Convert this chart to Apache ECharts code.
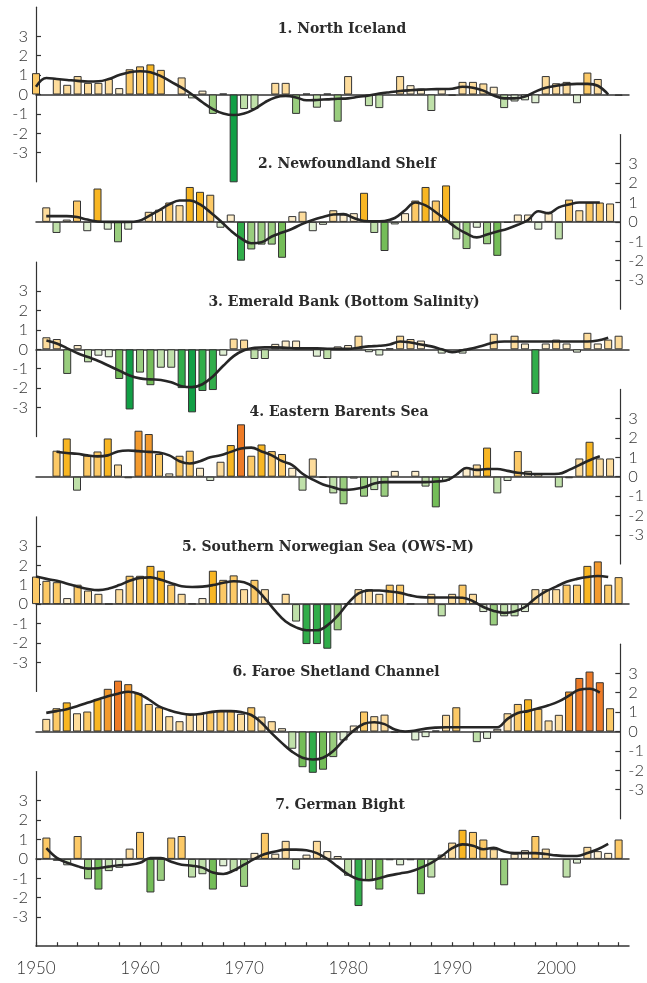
<!DOCTYPE html>
<html>
<head>
<meta charset="utf-8">
<script src="https://cdn.jsdelivr.net/npm/echarts@6/dist/echarts.min.js"></script>
<style>
  html, body { margin: 0; padding: 0; background: #fff; }
  #chart { width: 647px; height: 983px; }
</style>
</head>
<body>
<div id="chart"></div>
<script>
// ===== data =====
const years = [1950,1951,1952,1953,1954,1955,1956,1957,1958,1959,
  1960,1961,1962,1963,1964,1965,1966,1967,1968,1969,
  1970,1971,1972,1973,1974,1975,1976,1977,1978,1979,
  1980,1981,1982,1983,1984,1985,1986,1987,1988,1989,
  1990,1991,1992,1993,1994,1995,1996,1997,1998,1999,
  2000,2001,2002,2003,2004,2005,2006];

const titles = [
  '1. North Iceland',
  '2. Newfoundland Shelf',
  '3. Emerald Bank (Bottom Salinity)',
  '4. Eastern Barents Sea',
  '5. Southern Norwegian Sea (OWS-M)',
  '6. Faroe Shetland Channel',
  '7. German Bight'
];

const yTicks = [-3, -2, -1, 0, 1, 2, 3];
const xTicks = [1950,1952,1954,1956,1958,1960,1962,1964,1966,1968,1970,1972,1974,1976,1978,
  1980,1982,1984,1986,1988,1990,1992,1994,1996,1998,2000,2002,2004,2006];
const xLabels = [1950, 1960, 1970, 1980, 1990, 2000];

// 1. North Iceland
const bars1 = [1.1,null,0.8,0.5,0.95,0.6,0.6,0.8,0.33,1.3,
  1.45,1.55,1.27,null,0.88,-0.2,0.2,-1.0,0.05,-4.8,
  -0.75,-0.75,null,0.6,0.6,-1.0,0.05,-0.68,0.05,-1.4,
  0.95,null,-0.6,-0.7,null,0.95,0.48,0.3,-0.85,0.3,
  -0.07,0.65,0.65,0.57,0.4,-0.7,-0.36,-0.3,-0.45,0.95,
  0.58,0.65,-0.45,1.13,0.8,null,-0.07];
const line1 = [0.4,0.85,0.8,0.75,0.7,0.67,0.68,0.8,1.0,1.15,
  1.2,1.15,0.95,0.65,0.35,0.0,-0.4,-0.75,-0.98,-1.06,
  -0.98,-0.75,-0.4,-0.15,-0.08,-0.15,-0.3,-0.28,-0.25,-0.22,
  -0.2,-0.12,-0.05,0.05,0.12,0.18,0.22,0.25,0.27,0.28,
  0.3,0.4,0.35,0.2,-0.05,-0.2,-0.2,-0.1,0.15,0.35,
  0.45,0.52,0.55,0.55,0.45,0.0,null];

// 2. Newfoundland Shelf
const bars2 = [null,0.75,-0.57,0.12,1.1,-0.48,1.72,-0.4,-1.05,-0.4,
  null,0.52,0.63,1.0,0.86,1.8,1.55,1.4,-0.3,0.38,
  -2.0,-1.42,-1.17,-1.17,-1.85,0.3,0.53,-0.48,-0.15,0.6,
  0.38,0.45,1.5,-0.57,-1.5,-0.13,0.45,1.1,1.8,1.1,
  1.88,-0.9,-1.4,-0.3,-1.15,-1.75,-0.05,0.38,0.38,-0.4,
  0.45,-0.9,1.15,0.6,1.0,1.0,0.95];
const line2 = [null,0.3,0.3,0.3,0.25,0.12,0.02,0.0,0.0,0.0,
  0.05,0.3,0.6,0.9,1.1,1.1,0.9,0.5,0.05,-0.45,
  -0.85,-1.1,-1.05,-0.75,-0.55,-0.35,-0.1,0.1,0.25,0.38,
  0.4,0.2,0.05,0.03,0.05,0.2,0.6,1.0,0.85,0.5,
  0.1,-0.3,-0.6,-0.8,-0.65,-0.5,-0.35,-0.15,0.1,0.55,
  0.45,0.75,0.9,1.0,1.0,1.0,null];

// 3. Emerald Bank (Bottom Salinity)
const bars3 = [null,0.62,0.53,-1.27,0.22,-0.67,-0.33,-0.41,-1.53,-3.1,
  -1.2,-1.85,-0.95,-0.95,-2.0,-3.25,-2.15,-2.1,-0.33,0.55,
  0.5,-0.5,-0.5,0.28,0.45,0.45,null,-0.38,-0.5,0.15,
  0.22,0.7,-0.15,-0.32,0.05,0.7,0.53,0.45,null,-0.22,
  null,-0.22,null,null,0.8,null,0.7,0.3,-2.3,0.3,
  0.5,0.3,-0.17,0.85,0.3,0.5,0.7];
const line3 = [null,0.45,0.3,0.05,-0.2,-0.4,-0.6,-0.85,-1.1,-1.35,
  -1.5,-1.55,-1.58,-1.7,-1.9,-1.95,-1.8,-1.4,-0.85,-0.35,
  -0.05,0.08,0.1,0.1,0.08,0.05,0.05,0.05,0.03,0.02,
  0.02,0.08,0.15,0.18,0.25,0.4,0.35,0.25,0.15,0.0,
  -0.15,-0.05,0.05,0.2,0.35,0.4,0.4,0.4,0.4,0.4,
  0.4,0.4,0.4,0.4,0.45,0.6,null];

// 4. Eastern Barents Sea
const bars4 = [null,null,1.34,1.97,-0.72,1.1,1.3,1.97,0.63,-0.08,
  2.37,2.2,1.17,0.17,1.08,1.34,0.46,-0.22,0.77,1.63,
  2.7,1.08,1.66,1.32,1.17,0.46,-0.72,0.94,-0.05,-0.86,
  -1.42,-0.1,-1.03,-0.69,-1.03,0.3,null,0.3,-0.51,-1.58,
  -0.22,null,0.46,0.63,1.5,-0.86,-0.22,1.32,0.3,0.17,
  null,-0.55,-0.08,0.94,1.8,0.94,0.94];
const line4 = [null,null,1.29,1.22,1.18,1.1,1.05,1.1,1.3,1.35,
  1.32,1.28,1.25,1.1,0.8,0.68,0.8,1.0,1.1,1.28,
  1.45,1.5,1.3,1.1,0.8,0.6,0.15,-0.15,-0.4,-0.55,
  -0.68,-0.65,-0.55,-0.35,-0.28,-0.28,-0.28,-0.28,-0.28,-0.25,
  -0.2,0.1,0.45,0.35,0.4,0.4,0.3,0.2,0.15,0.14,
  0.14,0.15,0.35,0.6,0.85,1.05,null];

// 5. Southern Norwegian Sea (OWS-M)
const bars5 = [1.42,1.2,1.13,0.31,1.0,0.7,0.53,0.02,0.77,1.46,
  1.46,1.97,1.72,1.0,0.53,0.03,0.31,1.72,1.25,1.48,
  0.77,1.25,0.77,null,0.53,-0.9,-2.06,-2.06,-2.3,-1.35,
  0.03,0.77,0.77,0.53,1.0,1.0,0.02,null,0.53,-0.63,
  0.53,1.0,0.53,-0.41,-1.1,-0.63,-0.63,-0.41,0.77,0.77,
  0.77,1.0,1.0,1.97,2.2,1.0,1.39];
const line5 = [1.42,1.3,1.2,1.05,0.9,0.78,0.72,0.8,0.98,1.2,
  1.35,1.38,1.25,1.08,0.92,0.88,0.9,0.98,1.1,1.18,
  1.13,0.85,0.3,-0.35,-0.9,-1.2,-1.35,-1.35,-1.1,-0.6,
  0.05,0.55,0.7,0.7,0.65,0.58,0.45,0.36,0.34,0.34,
  0.34,0.33,0.15,-0.15,-0.35,-0.45,-0.38,-0.15,0.3,0.65,
  0.9,1.15,1.3,1.4,1.45,1.4,null];

// 6. Faroe Shetland Channel
const bars6 = [null,0.65,1.2,1.5,0.94,1.03,1.68,2.2,2.62,2.44,
  1.97,1.42,1.25,0.79,0.53,0.91,0.91,1.0,1.05,1.05,
  0.91,1.25,0.77,0.53,0.17,-0.89,-1.84,-2.13,-1.97,-1.32,
  -0.46,0.31,1.03,0.79,0.87,-0.07,null,-0.46,-0.29,0.05,
  0.86,1.25,null,-0.55,-0.38,0.14,0.94,1.42,1.66,1.17,
  0.57,0.86,2.06,2.76,3.09,2.54,1.2];
const line6 = [null,0.96,1.05,1.15,1.3,1.48,1.65,1.82,1.95,2.05,
  1.95,1.65,1.3,1.1,0.95,0.87,0.9,1.0,1.05,1.05,
  1.0,0.85,0.45,-0.1,-0.6,-1.05,-1.35,-1.44,-1.35,-1.0,
  -0.45,0.05,0.4,0.48,0.38,0.1,0.0,0.05,0.15,0.2,
  0.22,0.22,0.22,0.22,0.22,0.22,0.65,0.95,1.05,1.2,
  1.35,1.55,1.85,2.15,2.2,2.0,null];

// 7. German Bight
const bars7 = [null,1.1,-0.1,-0.33,1.18,-1.05,-1.58,-0.63,-0.46,0.53,
  1.39,-1.73,-1.13,1.1,1.18,-0.96,-0.79,-1.58,-0.38,-0.63,
  -1.44,0.31,1.34,0.27,0.93,-0.55,0.22,0.93,0.4,0.15,
  -0.87,-2.43,-1.13,-1.58,-0.07,-0.33,-0.07,-1.82,-0.96,0.22,
  0.84,1.5,1.39,1.0,0.5,-1.36,0.27,0.45,1.18,0.53,
  null,-0.96,-0.24,0.62,0.4,0.31,1.0];
const line7 = [null,0.55,0.05,-0.2,-0.38,-0.5,-0.48,-0.4,-0.33,-0.3,
  -0.2,0.05,0.05,-0.15,-0.3,-0.35,-0.45,-0.7,-0.78,-0.6,
  -0.3,0.0,0.25,0.38,0.48,0.48,0.45,0.3,0.0,-0.4,
  -0.8,-1.05,-1.1,-1.0,-0.85,-0.75,-0.65,-0.45,-0.2,0.15,
  0.55,0.75,0.68,0.5,0.57,0.38,0.3,0.3,0.3,0.25,
  0.18,0.15,0.15,0.3,0.5,0.78,null];

const allBars = [bars1, bars2, bars3, bars4, bars5, bars6, bars7];
const allLines = [line1, line2, line3, line4, line5, line6, line7];

// ===== layout =====
const zero0 = 94.5;      // y pixel of the zero line in panel 1
const step = 127.4;      // vertical distance between panels
const unit = 19.4;       // pixels per anomaly unit
const titlePos = [[342, 31], [347, 166], [344, 304], [339, 414], [328, 549], [336, 674], [340, 807]];

const axisColor = '#333';
const labelFont = "Lato, 'Open Sans', sans-serif";
const titleFont = "'DejaVu Serif Condensed', 'DejaVu Serif', serif";

// 颜色：正值橙黄，负值绿色
function barColor(v) {
  if (v >= 2.5) return '#ee7b27';
  if (v >= 2) return '#f39a2e';
  if (v >= 1.5) return '#f8b623';
  if (v >= 1) return '#fcc966';
  if (v >= 0.5) return '#fddc9c';
  if (v >= 0) return '#feeecb';
  if (v > -0.5) return '#dfefd3';
  if (v > -1) return '#bfe0a9';
  if (v > -1.5) return '#99cd7e';
  if (v > -2) return '#74bd58';
  if (v > -2.5) return '#31ad4a';
  return '#119f45';
}

function pairs(arr) {
  const out = [];
  arr.forEach((v, k) => { if (v !== null) out.push([years[k], v]); });
  return out;
}

const grid = [], xAxis = [], yAxis = [], series = [], title = [];

for (let i = 0; i < 7; i++) {
  const zero = zero0 + step * i;
  grid.push({ left: 36, right: 18, top: zero - 4.5 * unit, height: 9 * unit });

  xAxis.push({
    type: 'value', gridIndex: i, min: 1950, max: 2007,
    axisLine: { onZero: true, lineStyle: { color: axisColor, width: 1.5 } },
    axisTick: { show: false }, axisLabel: { show: false }, splitLine: { show: false }
  });

  yAxis.push({
    type: 'value', gridIndex: i, min: -4.5, max: 4.5,
    position: i % 2 ? 'right' : 'left',
    axisLine: { show: true, lineStyle: { color: axisColor, width: 1.2 } },
    axisTick: { show: true, inside: true, length: 5, customValues: yTicks, lineStyle: { color: axisColor, width: 1.2 } },
    axisLabel: {
      customValues: yTicks, margin: 8, fontSize: 16.5, color: '#333',
      fontFamily: labelFont, fontWeight: 300
    },
    splitLine: { show: false }
  });

  title.push({
    text: titles[i], left: titlePos[i][0], top: titlePos[i][1] - 10,
    textAlign: 'center', padding: 0,
    textStyle: { fontFamily: titleFont, fontWeight: 'bold', fontSize: 15.5, color: '#2b2b2b' }
  });

  series.push({
    type: 'bar', xAxisIndex: i, yAxisIndex: i, barWidth: 8, clip: true,
    data: pairs(allBars[i]),
    itemStyle: {
      color: p => barColor(p.value[1]),
      borderColor: '#333', borderWidth: 1
    },
    silent: true, animation: false, z: 2
  });

  series.push({
    type: 'line', xAxisIndex: i, yAxisIndex: i,
    data: pairs(allLines[i]),
    smooth: 0.4, showSymbol: false, symbol: 'none',
    lineStyle: { color: '#262626', width: 2.6 },
    silent: true, animation: false, z: 3
  });
}

// 底部年份轴
xAxis.push({
  type: 'value', gridIndex: 6, min: 1950, max: 2007, position: 'bottom',
  axisLine: { onZero: false, lineStyle: { color: axisColor, width: 1.5 } },
  axisTick: { show: true, inside: true, length: 4, customValues: xTicks, lineStyle: { color: axisColor, width: 1.2 } },
  axisLabel: {
    customValues: xLabels, margin: 14, fontSize: 17, color: '#333',
    fontFamily: labelFont, fontWeight: 300,
    formatter: v => String(v)
  },
  splitLine: { show: false }
});

const chart = echarts.init(document.getElementById('chart'), null, { renderer: 'canvas' });
chart.setOption({
  backgroundColor: '#fff',
  animation: false,
  title: title,
  grid: grid,
  xAxis: xAxis,
  yAxis: yAxis,
  series: series
});
</script>
</body>
</html>
